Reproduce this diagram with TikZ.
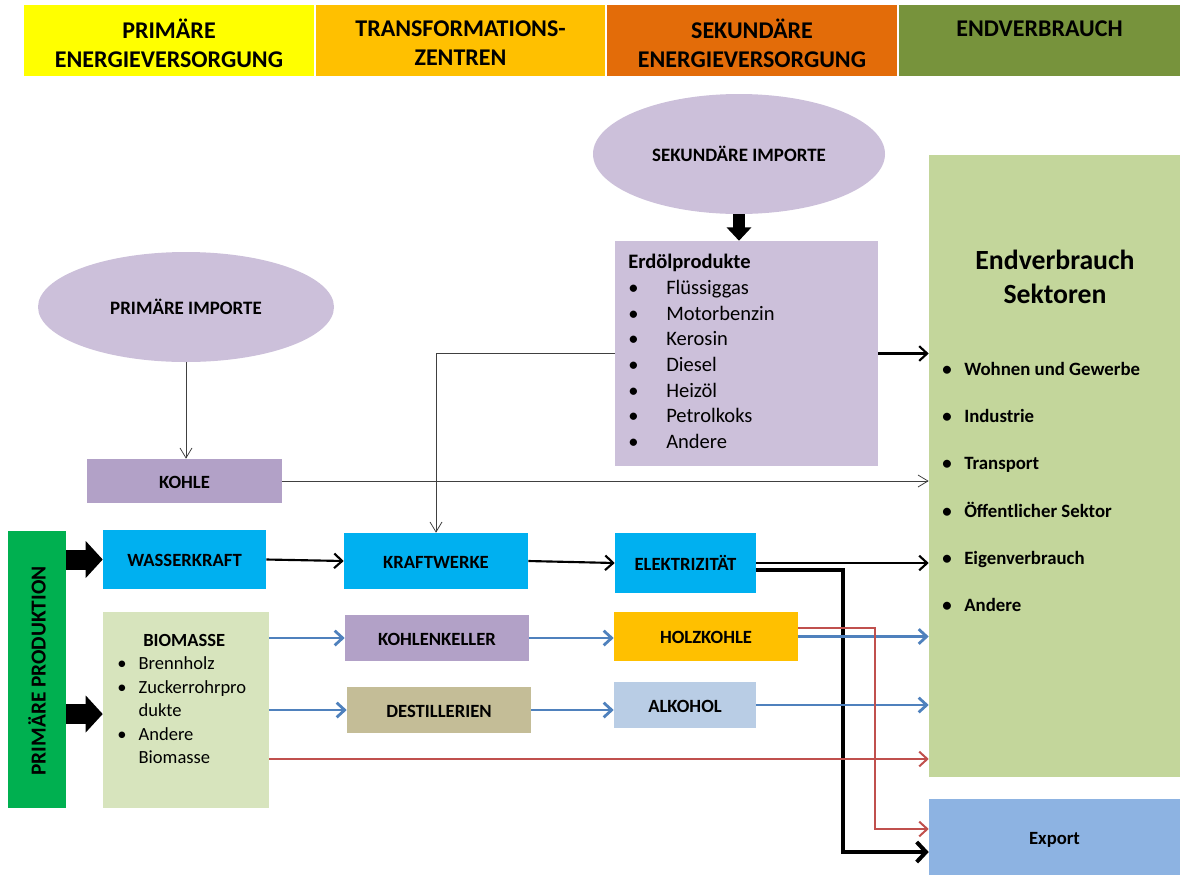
\documentclass[tikz,border=0pt]{standalone}
\usepackage{fontspec}
\setmainfont{Carlito}
\usetikzlibrary{shapes.geometric,arrows.meta}
\definecolor{cYel}{HTML}{FFFF00}
\definecolor{cOrY}{HTML}{FFC000}
\definecolor{cOr}{HTML}{E36C09}
\definecolor{cGr}{HTML}{77933C}
\definecolor{cLav}{HTML}{CCC0DA}
\definecolor{cKoh}{HTML}{B2A1C7}
\definecolor{cCyan}{HTML}{00B0F0}
\definecolor{cBio}{HTML}{D7E4BD}
\definecolor{cDs}{HTML}{C4BD97}
\definecolor{cAl}{HTML}{B9CDE5}
\definecolor{cEv}{HTML}{C3D69B}
\definecolor{cEx}{HTML}{8DB3E2}
\definecolor{cPp}{HTML}{00B050}
\definecolor{cBlue}{HTML}{4F81BD}
\definecolor{cRed}{HTML}{C0504D}
\definecolor{cThin}{HTML}{404040}
\newcommand\rbox[7]{\node[#6, minimum width={(#4-#2)*0.75pt}, minimum height={(#5-#3)*0.75pt}] (#1) at ({(#2+#4)/2},{(#3+#5)/2}) {#7};}
\begin{document}
\begin{tikzpicture}[x=0.75pt,y=-0.75pt,
  box/.style={rectangle, inner sep=0pt, draw=none, align=center, text height=11.2pt, text depth=0pt, font=\fontsize{14}{16}\selectfont\bfseries},
  hdrtxt/.style={inner sep=0pt, align=center, font=\fontsize{18}{21.75}\selectfont\bfseries},
  ell/.style={ellipse, fill=cLav, inner sep=0pt, font=\fontsize{14.2}{16}\selectfont\bfseries},
  thin/.style={draw=cThin, line width=0.6pt, -{Straight Barb[length=7.5pt,width=9pt]}},
  blk/.style={draw=black, line width=1.6pt, -{Straight Barb[length=6pt,width=11pt]}},
  blu/.style={draw=cBlue, line width=2.1pt, -{Straight Barb[length=6pt,width=11pt]}},
  rd/.style={draw=cRed, line width=1.5pt, -{Straight Barb[length=6pt,width=11pt]}},
  thk/.style={draw=black, line width=3pt, -{Straight Barb[length=7pt,width=15pt]}},
  blockarr/.style={draw=black, line width=15pt, -{Triangle[length=12.75pt,width=27pt]}},
  listtxt/.style={anchor=north west, inner sep=0pt, align=left}
]
\useasboundingbox (0,0) rectangle (1180,875);
% header
\rbox{h1}{24}{5}{314}{76}{box, fill=cYel}{}
\rbox{h2}{316}{5}{605}{76}{box, fill=cOrY}{}
\rbox{h3}{607}{5}{897}{76}{box, fill=cOr}{}
\rbox{h4}{899}{5}{1180}{76}{box, fill=cGr}{}
\node[hdrtxt] (h1t) at ([yshift=-1.8pt]h1.center) {PRIMÄRE\\ENERGIEVERSORGUNG};
\node[hdrtxt] (h2t) at ([yshift=-1.8pt]h2.center) {TRANSFORMATIONS-\\ZENTREN};
\node[hdrtxt] (h3t) at ([yshift=-1.8pt]h3.center) {SEKUNDÄRE\\ENERGIEVERSORGUNG};
\node[hdrtxt] (h4t) at ([yshift=-2.2pt]h4.center) {ENDVERBRAUCH\\\mbox{}};
% ellipses
\node[ell, minimum width=296*0.75pt, minimum height=110*0.75pt] (pi) at (186,307) {PRIMÄRE IMPORTE};
\node[ell, minimum width=292*0.75pt, minimum height=120*0.75pt] (si) at (739,154) {SEKUNDÄRE IMPORTE};
% Erdoel
\rbox{erd}{615}{241}{878}{466}{box, fill=cLav}{}
\node[listtxt, font=\fontsize{15.4}{19.25}\selectfont] (erdtxt) at (628,254) {\textbf{Erdölprodukte}\\
\makebox[28.5pt][l]{\textbullet}Flüssiggas\\
\makebox[28.5pt][l]{\textbullet}Motorbenzin\\
\makebox[28.5pt][l]{\textbullet}Kerosin\\
\makebox[28.5pt][l]{\textbullet}Diesel\\
\makebox[28.5pt][l]{\textbullet}Heizöl\\
\makebox[28.5pt][l]{\textbullet}Petrolkoks\\
\makebox[28.5pt][l]{\textbullet}Andere};
% boxes
\rbox{kohle}{87}{459}{282}{503}{box, fill=cKoh}{KOHLE}
\rbox{pp}{8}{531}{66}{808}{box, fill=cPp}{}
\node[rotate=90, inner sep=0pt, font=\fontsize{16}{18}\selectfont\bfseries] (pptxt) at (37,671) {PRIMÄRE PRODUKTION};
\rbox{wk}{103}{530}{266}{589}{box, fill=cCyan}{WASSERKRAFT}
\rbox{kw}{344}{533}{528}{589}{box, fill=cCyan}{KRAFTWERKE}
\rbox{el}{615}{533}{756}{593}{box, fill=cCyan}{ELEKTRIZITÄT}
\rbox{bio}{103}{612}{269}{808}{box, fill=cBio}{}
\node[listtxt, font=\fontsize{13.9}{17.6}\selectfont] (biotxt) at (117,634) {\hspace*{19.5pt}\textbf{BIOMASSE}\\
\makebox[16pt][l]{\textbullet}Brennholz\\
\makebox[16pt][l]{\textbullet}Zuckerrohrpro\\
\hspace*{16pt}dukte\\
\makebox[16pt][l]{\textbullet}Andere\\
\hspace*{16pt}Biomasse};
\rbox{kk}{345}{615}{529}{661}{box, fill=cKoh}{KOHLENKELLER}
\rbox{ds}{347}{687}{531}{733}{box, fill=cDs}{DESTILLERIEN}
\rbox{hk}{614}{612}{798}{661}{box, fill=cOrY}{HOLZKOHLE}
\rbox{al}{614}{682}{756}{728}{box, fill=cAl}{ALKOHOL}
\rbox{ev}{929}{155}{1180}{777}{box, fill=cEv}{}
\node[inner sep=0pt, align=center, font=\fontsize{20.8}{25.5}\selectfont\bfseries] (evtitle) at (1055,277) {Endverbrauch\\Sektoren};
\node[listtxt, font=\fontsize{14.1}{35.4}\selectfont\bfseries] (evlist) at (942,362) {\makebox[16.5pt][l]{\textbullet}Wohnen und Gewerbe\\
\makebox[16.5pt][l]{\textbullet}Industrie\\
\makebox[16.5pt][l]{\textbullet}Transport\\
\makebox[16.5pt][l]{\textbullet}Öffentlicher Sektor\\
\makebox[16.5pt][l]{\textbullet}Eigenverbrauch\\
\makebox[16.5pt][l]{\textbullet}Andere};
\rbox{ex}{929}{799}{1180}{875}{box, fill=cEx}{Export}
% helper coordinates
\coordinate (bp) at (0,714);
\coordinate (e1) at (0,570);
\coordinate (e2) at (843,852);
\coordinate (r1) at (0,628);
\coordinate (r2) at (875,829);
\coordinate (b1) at (0,759);
% connectors
\draw[line width=9pt, -{Triangle[length=10pt,width=18pt]}] (si.south) -- (si.south |- erd.north);
\draw[blockarr] (pp.east |- wk.west) -- (wk.west);
\draw[blockarr] (pp.east |- bp) -- (bp -| bio.west);
\draw[thin] (pi.south) -- (pi.south |- kohle.north);
\draw[thin] (kohle.east) -- (kohle.east -| ev.west);
\draw[thin] (erd.west) -| (kw.north);
\draw[blk] (erd.east) -- (erd.east -| ev.west);
\draw[blk] (wk.east) -- (kw.west);
\draw[blk] (kw.east) -- (el.west);
\draw[blk] (el.east) -- (el.east -| ev.west);
\draw[thk] (el.east |- e1) -| (e2) -- (e2 -| ex.west);
\draw[blu] (bio.east |- kk.west) -- (kk.west);
\draw[blu] (bio.east |- ds.west) -- (ds.west);
\draw[blu] (kk.east) -- (kk.east -| hk.west);
\draw[blu] (ds.east) -- (ds.east -| al.west);
\draw[blu] (hk.east) -- (hk.east -| ev.west);
\draw[blu] (al.east) -- (al.east -| ev.west);
\draw[rd] (hk.east |- r1) -| (r2) -- (r2 -| ex.west);
\draw[rd] (bio.east |- b1) -- (b1 -| ev.west);
\end{tikzpicture}
\end{document}
